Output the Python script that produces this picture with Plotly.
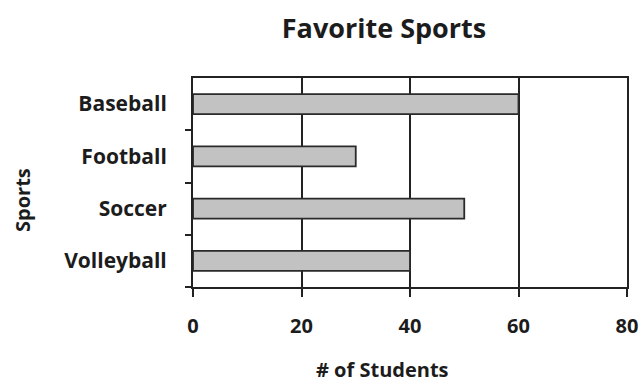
import plotly.graph_objects as go

sports = ["Baseball", "Football", "Soccer", "Volleyball"]
students = [60, 30, 50, 40]
x_ticks = [0, 20, 40, 60, 80]

FONT = "Open Sans"
INK = "#1c1c1c"

L, R, T, B = 193, 627, 78, 287
W, H = 641, 383


def px_x(p):
    return (p - L) / (R - L)


def px_y(p):
    return (B - p) / (B - T)


fig = go.Figure()
fig.add_trace(go.Bar(
    x=students, y=sports, orientation="h",
    marker=dict(color="#c2c2c2", line=dict(color="#2a2a2a", width=1.8)),
    width=0.38,
))

fig.update_layout(
    width=W, height=H,
    margin=dict(l=L, r=W - R, t=T, b=H - B, autoexpand=False),
    paper_bgcolor="white", plot_bgcolor="white",
    showlegend=False,
    font=dict(family=FONT, color=INK),
    title=dict(text="<b>Favorite Sports</b>", x=384 / W, xanchor="center",
               y=1 - 29 / H, yanchor="middle",
               font=dict(family=FONT, size=27, color=INK)),
    annotations=[
        dict(text="<b># of Students</b>", x=px_x(382), y=px_y(369),
             xref="paper", yref="paper", showarrow=False,
             xanchor="center", yanchor="middle",
             font=dict(family=FONT, size=20, color=INK)),
        dict(text="<b>Sports</b>", x=px_x(22), y=px_y(200),
             xref="paper", yref="paper", showarrow=False, textangle=-90,
             xanchor="center", yanchor="middle",
             font=dict(family=FONT, size=20, color=INK)),
    ],
)

fig.update_xaxes(
    range=[0, 80], tickvals=x_ticks, ticktext=[f"<b>{v}</b>" for v in x_ticks],
    showgrid=True, gridcolor="#222", gridwidth=2,
    showline=True, linecolor="#222", linewidth=2, mirror=True,
    ticks="outside", ticklen=8, tickcolor="#222", tickwidth=2,
    ticklabelstandoff=12,
    tickfont=dict(family=FONT, size=20, color=INK),
    zeroline=False, fixedrange=True, automargin=False,
)
fig.update_yaxes(
    categoryorder="array", categoryarray=sports[::-1],
    tickvals=sports, ticktext=[f"<b>{s}</b>" for s in sports],
    showgrid=False,
    showline=True, linecolor="#222", linewidth=2, mirror=True,
    ticks="outside", tickson="boundaries", ticklen=6, tickcolor="#222", tickwidth=2,
    ticklabelstandoff=20,
    tickfont=dict(family=FONT, size=21, color=INK),
    fixedrange=True, automargin=False,
)

fig.write_html("out.html")
